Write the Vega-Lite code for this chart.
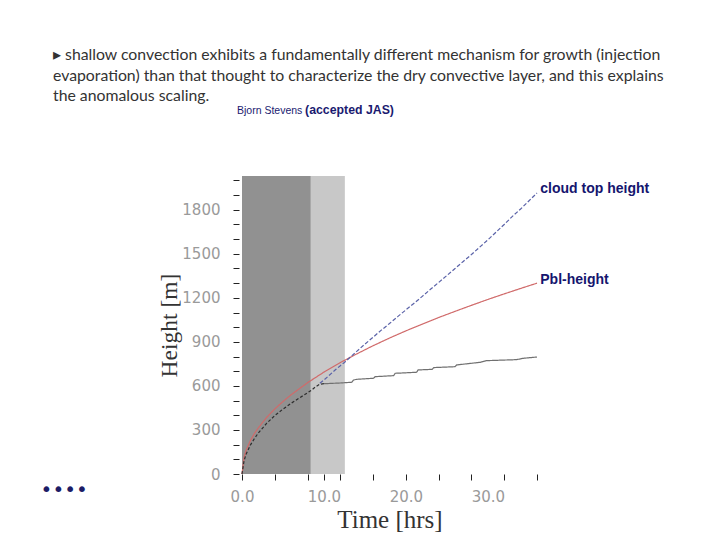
{
  "$schema": "https://vega.github.io/schema/vega-lite/v6.json",
  "width": 295,
  "height": 298,
  "autosize": {"type": "none"},
  "padding": {"left": 242, "top": 176, "right": 183, "bottom": 66},
  "background": "white",
  "config": {"view": {"stroke": null}, "axis": {"grid": false, "domain": false, "labelOverlap": false, "labelFlush": false, "labelBound": false}},
  "title": {
    "text": ["▸  shallow convection exhibits a fundamentally different mechanism for growth (injection", "evaporation) than that thought to characterize the dry convective layer, and this explains", "the anomalous scaling."],
    "anchor": "start",
    "frame": "group",
    "dx": -189,
    "offset": -1,
    "font": "Lato",
    "fontSize": 15.8,
    "fontWeight": "normal",
    "color": "#333333",
    "lineHeight": 20.5
  },
  "datasets": {
    "shades": [
      {"t0": 0, "t1": 8.4, "h0": 0, "h1": 2030, "zone": "spin-up"},
      {"t0": 8.4, "t1": 12.55, "h0": 0, "h1": 2030, "zone": "transition"}
    ],
    "lines": [
      {"series": "pbl", "t": 0, "h": 0},
      {"series": "pbl", "t": 0.25, "h": 114},
      {"series": "pbl", "t": 0.5, "h": 160},
      {"series": "pbl", "t": 1, "h": 225},
      {"series": "pbl", "t": 1.5, "h": 274},
      {"series": "pbl", "t": 2, "h": 315},
      {"series": "pbl", "t": 3, "h": 385},
      {"series": "pbl", "t": 4, "h": 443},
      {"series": "pbl", "t": 5, "h": 494},
      {"series": "pbl", "t": 6, "h": 540},
      {"series": "pbl", "t": 8, "h": 622},
      {"series": "pbl", "t": 10, "h": 694},
      {"series": "pbl", "t": 12, "h": 759},
      {"series": "pbl", "t": 14, "h": 818},
      {"series": "pbl", "t": 16, "h": 874},
      {"series": "pbl", "t": 18, "h": 926},
      {"series": "pbl", "t": 20, "h": 975},
      {"series": "pbl", "t": 22, "h": 1021},
      {"series": "pbl", "t": 24, "h": 1066},
      {"series": "pbl", "t": 26, "h": 1108},
      {"series": "pbl", "t": 28, "h": 1149},
      {"series": "pbl", "t": 30, "h": 1189},
      {"series": "pbl", "t": 32, "h": 1227},
      {"series": "pbl", "t": 34, "h": 1264},
      {"series": "pbl", "t": 36, "h": 1300},
      {"series": "ctop", "t": 9.5, "h": 618},
      {"series": "ctop", "t": 10, "h": 640},
      {"series": "ctop", "t": 10.5, "h": 665},
      {"series": "ctop", "t": 11, "h": 690},
      {"series": "ctop", "t": 11.5, "h": 715},
      {"series": "ctop", "t": 12, "h": 738},
      {"series": "ctop", "t": 12.5, "h": 760},
      {"series": "ctop", "t": 13, "h": 785},
      {"series": "ctop", "t": 14, "h": 835},
      {"series": "ctop", "t": 15, "h": 885},
      {"series": "ctop", "t": 16, "h": 932},
      {"series": "ctop", "t": 17, "h": 980},
      {"series": "ctop", "t": 18, "h": 1025},
      {"series": "ctop", "t": 19, "h": 1072},
      {"series": "ctop", "t": 20, "h": 1118},
      {"series": "ctop", "t": 21, "h": 1163},
      {"series": "ctop", "t": 22, "h": 1210},
      {"series": "ctop", "t": 23, "h": 1258},
      {"series": "ctop", "t": 24, "h": 1305},
      {"series": "ctop", "t": 25, "h": 1352},
      {"series": "ctop", "t": 26, "h": 1400},
      {"series": "ctop", "t": 27, "h": 1448},
      {"series": "ctop", "t": 28, "h": 1495},
      {"series": "ctop", "t": 29, "h": 1545},
      {"series": "ctop", "t": 30, "h": 1595},
      {"series": "ctop", "t": 31, "h": 1647},
      {"series": "ctop", "t": 32, "h": 1700},
      {"series": "ctop", "t": 33, "h": 1755},
      {"series": "ctop", "t": 34, "h": 1805},
      {"series": "ctop", "t": 35, "h": 1860},
      {"series": "ctop", "t": 36, "h": 1914},
      {"series": "early", "t": 0, "h": 0},
      {"series": "early", "t": 0.25, "h": 90},
      {"series": "early", "t": 0.5, "h": 135},
      {"series": "early", "t": 1, "h": 195},
      {"series": "early", "t": 1.5, "h": 240},
      {"series": "early", "t": 2, "h": 280},
      {"series": "early", "t": 3, "h": 345},
      {"series": "early", "t": 4, "h": 398},
      {"series": "early", "t": 5, "h": 442},
      {"series": "early", "t": 6, "h": 482},
      {"series": "early", "t": 7, "h": 518},
      {"series": "early", "t": 8, "h": 553},
      {"series": "early", "t": 8.5, "h": 572},
      {"series": "early", "t": 9, "h": 595},
      {"series": "early", "t": 9.5, "h": 612},
      {"series": "early", "t": 10, "h": 615},
      {"series": "late", "t": 10, "h": 615},
      {"series": "late", "t": 12, "h": 620},
      {"series": "late", "t": 13.4, "h": 625},
      {"series": "late", "t": 13.6, "h": 640},
      {"series": "late", "t": 14, "h": 645},
      {"series": "late", "t": 16.05, "h": 652},
      {"series": "late", "t": 16.25, "h": 663},
      {"series": "late", "t": 18.5, "h": 670},
      {"series": "late", "t": 18.7, "h": 686},
      {"series": "late", "t": 21.3, "h": 693},
      {"series": "late", "t": 21.5, "h": 709},
      {"series": "late", "t": 23.2, "h": 713},
      {"series": "late", "t": 23.4, "h": 725},
      {"series": "late", "t": 26.0, "h": 731},
      {"series": "late", "t": 26.2, "h": 743},
      {"series": "late", "t": 29.1, "h": 761},
      {"series": "late", "t": 29.8, "h": 772},
      {"series": "late", "t": 33.5, "h": 779},
      {"series": "late", "t": 34.3, "h": 788},
      {"series": "late", "t": 36, "h": 797}
    ],
    "labels": [
      {"t": 36.4, "h": 1941, "label": "cloud top height"},
      {"t": 36.4, "h": 1321, "label": "Pbl-height"}
    ],
    "author": [{"t": -0.61, "h": 2452, "label": "Bjorn Stevens"}],
    "journal": [{"t": 7.7, "h": 2452, "label": "(accepted JAS)"}],
    "nav": [{"t": -21.7, "h": -109, "label": "••••"}]
  },
  "layer": [
    {
      "data": {"name": "shades"},
      "mark": {"type": "rect"},
      "encoding": {
        "x": {"field": "t0", "type": "quantitative", "scale": {"domain": [0, 36], "nice": false, "zero": false},
          "axis": {
            "values": [0, 4, 8, 10, 12, 16, 20, 24, 28, 30, 32, 36],
            "tickCount": 100,
            "labelExpr": "indexof([0,10,20,30], datum.value) >= 0 ? format(datum.value, '.1f') : ''",
            "title": "Time [hrs]",
            "tickSize": 6, "tickWidth": 1,
            "tickColor": {"condition": {"test": "datum.value == 30", "value": "transparent"}, "value": "#222222"},
            "labelFont": "DejaVu Sans", "labelFontSize": 15, "labelColor": "#9a9a9a", "labelPadding": 9,
            "titleFont": "Liberation Serif", "titleFontSize": 25, "titleFontWeight": "normal", "titleColor": "#333333", "titlePadding": 3
          }},
        "x2": {"field": "t1"},
        "y": {"field": "h0", "type": "quantitative", "scale": {"domain": [0, 2030], "nice": false},
          "axis": {
            "values": [0, 100, 200, 300, 400, 500, 600, 700, 800, 900, 1000, 1100, 1200, 1300, 1400, 1500, 1600, 1700, 1800, 1900, 2000],
            "tickCount": 100,
            "labelExpr": "datum.value % 300 == 0 ? format(datum.value, 'd') : ''",
            "title": "Height [m]",
            "tickSize": 6, "tickColor": "#222222", "tickWidth": 1, "offset": 3,
            "labelFont": "DejaVu Sans", "labelFontSize": 15, "labelColor": "#9a9a9a", "labelPadding": 13,
            "titleFont": "Liberation Serif", "titleFontSize": 23.5, "titleFontWeight": "normal", "titleColor": "#333333", "titlePadding": 0
          }},
        "y2": {"field": "h1"},
        "color": {"field": "zone", "type": "nominal", "scale": {"domain": ["spin-up", "transition"], "range": ["#919191", "#c8c8c8"]}, "legend": null}
      }
    },
    {
      "data": {"name": "lines"},
      "mark": {"type": "line", "strokeWidth": 1.2, "interpolate": "linear"},
      "encoding": {
        "x": {"field": "t", "type": "quantitative"},
        "y": {"field": "h", "type": "quantitative"},
        "detail": {"field": "series", "type": "nominal"},
        "stroke": {"field": "series", "type": "nominal", "scale": {"domain": ["pbl", "ctop", "early", "late"], "range": ["#d06a6a", "#5a62a8", "#2e2e2e", "#707070"]}, "legend": null},
        "strokeDash": {"field": "series", "type": "nominal", "scale": {"domain": ["pbl", "ctop", "early", "late"], "range": [[1, 0], [4, 2], [3, 2], [1, 0]]}, "legend": null}
      }
    },
    {
      "data": {"name": "labels"},
      "mark": {"type": "text", "align": "left", "baseline": "middle", "font": "Liberation Sans", "fontSize": 14, "fontWeight": "bold", "color": "#15156e"},
      "encoding": {
        "x": {"field": "t", "type": "quantitative"},
        "y": {"field": "h", "type": "quantitative"},
        "text": {"field": "label"}
      }
    },
    {
      "data": {"name": "author"},
      "mark": {"type": "text", "align": "left", "baseline": "alphabetic", "font": "Liberation Sans", "fontSize": 10.5, "color": "#1a1a70"},
      "encoding": {
        "x": {"field": "t", "type": "quantitative"},
        "y": {"field": "h", "type": "quantitative"},
        "text": {"field": "label"}
      }
    },
    {
      "data": {"name": "journal"},
      "mark": {"type": "text", "align": "left", "baseline": "alphabetic", "font": "Liberation Sans", "fontSize": 12.3, "fontWeight": "bold", "color": "#1a1a70"},
      "encoding": {
        "x": {"field": "t", "type": "quantitative"},
        "y": {"field": "h", "type": "quantitative"},
        "text": {"field": "label"}
      }
    },
    {
      "data": {"name": "nav"},
      "mark": {"type": "text", "align": "center", "baseline": "middle", "font": "DejaVu Sans", "fontSize": 20, "color": "#1c1c66"},
      "encoding": {
        "x": {"field": "t", "type": "quantitative"},
        "y": {"field": "h", "type": "quantitative"},
        "text": {"field": "label"}
      }
    }
  ]
}
